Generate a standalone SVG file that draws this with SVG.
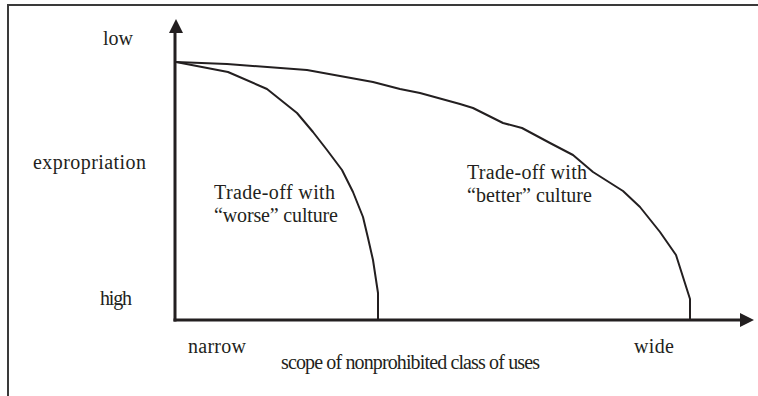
<svg xmlns="http://www.w3.org/2000/svg" width="758" height="396" viewBox="0 0 758 396">
<style>
text{font-family:'Liberation Serif','Times New Roman','DejaVu Serif',serif;font-size:20px;fill:#231f20}
.ax{stroke:#231f20;stroke-width:3;fill:none}
.cv{stroke:#231f20;stroke-width:2;fill:none;stroke-linejoin:round}
.fr{stroke:#3a3a3a;stroke-width:2;fill:none}
</style>
<rect width="758" height="396" fill="#ffffff"/>
<g id="frame"><polyline class="fr" points="8,396 8,5 758,5"/></g>
<g id="connectors">
<line class="ax" x1="175" y1="30" x2="175" y2="321.5"/>
<polygon points="176,19 169,33 183,33" fill="#231f20"/>
<line class="ax" x1="173.5" y1="320" x2="742" y2="320"/>
<polygon points="754,320 740,313 740,327" fill="#231f20"/>
<polyline id="better" class="cv" points="176,62 227,64 307,70 373,82 400,89 420,93 460,104 473,108 503,123 522,128 550,143 573,155 593,172 623,191 640,207 660,232 676,255 690,299 690,320"/>
<polyline id="worse" class="cv" points="176,62 228,72 267,89 297,113 313,132 327,150 342,170 353,192 363,217 368,238 373,260 378,293 378,320"/>
</g>
<g id="labels">
<text x="103" y="45" textLength="30" lengthAdjust="spacing">low</text>
<text x="33" y="169" textLength="113" lengthAdjust="spacing">expropriation</text>
<text x="100" y="305" textLength="32" lengthAdjust="spacing">high</text>
<text x="188" y="353" textLength="58" lengthAdjust="spacing">narrow</text>
<text x="634" y="353" textLength="40" lengthAdjust="spacing">wide</text>
<text x="281" y="369" font-size="18.5" textLength="259" lengthAdjust="spacing">scope of nonprohibited class of uses</text>
</g>
<g id="worse-label">
<text x="214" y="199" textLength="121" lengthAdjust="spacing">Trade-off with</text>
<text x="214" y="222" textLength="124" lengthAdjust="spacing">“worse” culture</text>
</g>
<g id="better-label">
<text x="467" y="179" textLength="120" lengthAdjust="spacing">Trade-off with</text>
<text x="467" y="202" textLength="125" lengthAdjust="spacing">“better” culture</text>
</g>
</svg>
